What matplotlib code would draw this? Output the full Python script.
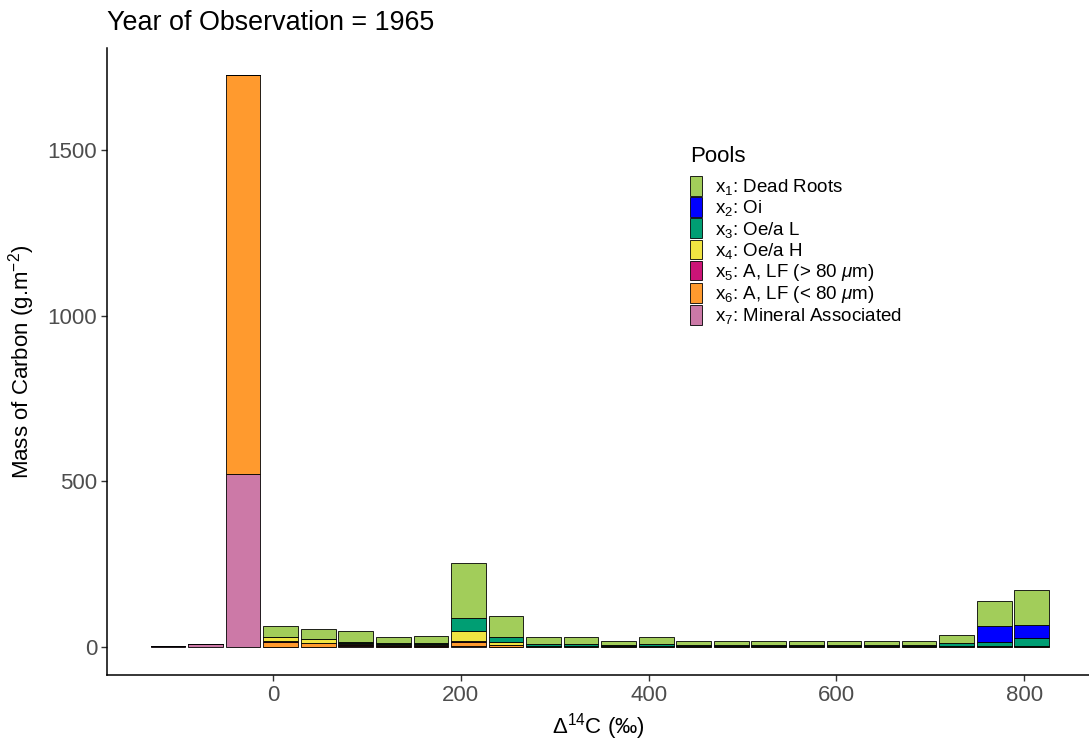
import numpy as np
import matplotlib
matplotlib.use("Agg")
import matplotlib.pyplot as plt
from matplotlib.patches import Patch

plt.rcParams['font.family'] = ['Liberation Sans', 'DejaVu Sans']
plt.rcParams['mathtext.fontset'] = 'custom'
plt.rcParams['mathtext.rm'] = 'Liberation Sans'
plt.rcParams['mathtext.it'] = 'Liberation Sans:italic'

# Bin centres of the radiocarbon histogram (per mil)
bins = [-112, -72, -32, 8, 48, 88, 128, 168, 208, 248, 288, 328,
        368, 408, 448, 488, 528, 568, 608, 648, 688, 728, 768, 808]

# Mass of carbon per pool in each bin (g m-2)
x1 = [0, 0, 0, 31, 32, 32, 20, 23, 165, 62, 20, 20,
      12, 20, 12, 12, 12, 12, 12, 12, 12, 26, 74, 107]
x2 = [0, 0, 0, 0, 0, 0, 0, 0, 0, 0, 0, 0,
      0, 0, 0, 0, 0, 0, 0, 0, 0, 0, 50, 39]
x3 = [0, 0, 0, 0, 0, 3, 2, 2, 41, 17, 7, 7,
      3, 7, 3, 3, 3, 3, 3, 3, 3, 8, 11, 24]
x4 = [0, 0, 0, 14, 11, 5, 4, 4, 29, 8, 1, 1,
      1, 1, 1, 1, 1, 1, 1, 1, 1, 1, 1, 1]
x5 = [0, 0, 0, 1, 1, 1, 1, 1, 2, 1, 0, 0,
      0, 0, 0, 0, 0, 0, 0, 0, 0, 0, 0, 0]
x6 = [0, 0, 1204, 15, 10, 5, 3, 3, 12, 4, 1, 1,
      1, 1, 1, 1, 1, 1, 1, 1, 1, 1, 1, 1]
x7 = [2, 9, 521, 1, 1, 2, 1, 1, 4, 1, 1, 1,
      1, 1, 1, 1, 1, 1, 1, 1, 1, 1, 1, 1]

pool_labels = [r'x$_1$: Dead Roots', r'x$_2$: Oi', r'x$_3$: Oe/a L',
               r'x$_4$: Oe/a H', r'x$_5$: A, LF (> 80 $\mu$m)',
               r'x$_6$: A, LF (< 80 $\mu$m)', r'x$_7$: Mineral Associated']
pool_colors = ['#A2CD5A', '#0000FF', '#009E73', '#F0E442',
               '#CC1477', '#FF9A2E', '#CC79A7']

W, H = 1089, 742
fig = plt.figure(figsize=(W / 100, H / 100), dpi=100)
ax = fig.add_axes([107 / W, 1 - 675 / H, (1089 - 107) / W, (675 - 48) / H])

# stack from x7 (bottom) up to x1 (top)
series = [x1, x2, x3, x4, x5, x6, x7]
bottom = np.zeros(len(bins))
for vals, col in zip(series[::-1], pool_colors[::-1]):
    ax.bar(bins, vals, width=37, bottom=bottom, color=col,
           edgecolor='black', linewidth=0.6)
    bottom += np.array(vals)

ax.set_xlim(-177, 869)
ax.set_ylim(-85, 1808)
ax.set_xticks([0, 200, 400, 600, 800])
ax.set_yticks([0, 500, 1000, 1500])

for s in ['top', 'right']:
    ax.spines[s].set_visible(False)
for s in ['left', 'bottom']:
    ax.spines[s].set_linewidth(1.1)
ax.tick_params(axis='both', colors='#333333', labelcolor='#4D4D4D',
               labelsize=16, length=4, width=1.0, pad=3)

ax.set_xlabel(r'$\Delta^{14}$C (‰)', fontsize=16, labelpad=4)
ax.set_ylabel(r'Mass of Carbon (g.m$^{-2}$)', fontsize=16, labelpad=8)
ax.set_title('Year of Observation = 1965', loc='left', fontsize=19.4, pad=13)

handles = [Patch(facecolor=c, edgecolor='black', linewidth=0.6) for c in pool_colors]
leg = ax.legend(handles, pool_labels, title='Pools', loc='upper left',
                bbox_to_anchor=(675 / W, 1 - 131 / H), bbox_transform=fig.transFigure,
                frameon=False, fontsize=13.5, title_fontsize=16,
                handlelength=0.65, handleheight=1.24, handletextpad=0.7,
                labelspacing=0.0, borderpad=0.3, alignment='left')
leg._legend_box.sep = 6.5  # gap between "Pools" and the keys

fig.savefig('out.png', dpi=100)
